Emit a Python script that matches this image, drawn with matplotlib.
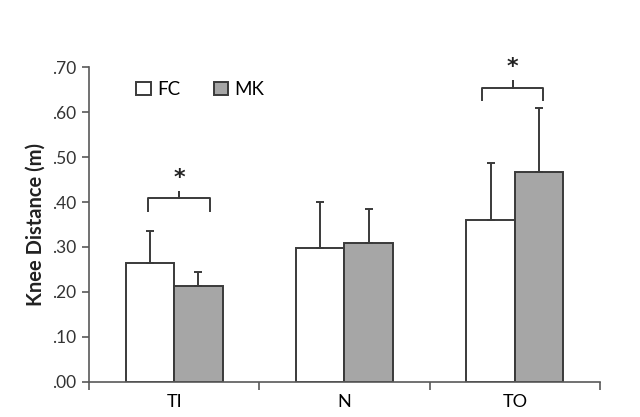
import matplotlib
matplotlib.use("Agg")
import matplotlib.pyplot as plt
import numpy as np

plt.rcParams['font.family'] = ['Lato', 'DejaVu Sans']

# data
categories = ["TI", "N", "TO"]
fc_mean = [0.265, 0.298, 0.359]
fc_sd = [0.071, 0.102, 0.127]
mk_mean = [0.214, 0.308, 0.466]
mk_sd = [0.031, 0.077, 0.144]

# significance brackets: (category index, bracket height)
sig = [(0, 0.408), (2, 0.655)]
# bracket extents relative to the category centre
spans = {0: (-0.154, 0.21), 2: (-0.193, 0.166)}

fig = plt.figure(figsize=(6.4, 4.17), dpi=100)
ax = fig.add_axes([0.139, 0.0846, 0.7985, 0.754])

x = np.arange(len(categories))
w = 0.284
dark = "#3a3a3a"

ax.bar(x - w / 2, fc_mean, w, color="white", edgecolor=dark, linewidth=1.4,
       yerr=[np.zeros(3), fc_sd], ecolor=dark, capsize=3,
       error_kw=dict(elinewidth=1.4, capthick=1.4), label="FC", zorder=2)
ax.bar(x + w / 2, mk_mean, w, color="#a6a6a6", edgecolor=dark, linewidth=1.4,
       yerr=[np.zeros(3), mk_sd], ecolor=dark, capsize=3,
       error_kw=dict(elinewidth=1.4, capthick=1.4), label="MK", zorder=2)

# brackets with star
for i, h in sig:
    x0 = i + spans[i][0]
    x1 = i + spans[i][1]
    xm = (x0 + x1) / 2
    ax.plot([x0, x0, xm, xm, xm, x1, x1],
            [h - 0.027, h, h, h + 0.014, h, h, h - 0.027],
            color=dark, lw=1.4, clip_on=False, solid_joinstyle="round")
    ax.text(xm, h + 0.045, "*", ha="center", va="center", fontsize=16,
            fontweight="bold", family="DejaVu Sans", color="#222222",
            clip_on=False)

ax.set_xlim(-0.5, 2.5)
ax.set_ylim(0, 0.70)
ax.set_yticks(np.arange(0, 0.71, 0.1))
ax.set_yticklabels([("%.2f" % v)[1:] for v in np.arange(0, 0.71, 0.1)])
ax.set_xticks([-0.5, 0.5, 1.5, 2.5])
ax.set_xticklabels([])
ax.set_xticks(x, minor=True)
ax.set_xticklabels(categories, minor=True, fontsize=13)
ax.tick_params(axis="x", which="minor", length=0, pad=9)
ax.tick_params(axis="x", which="major", length=6, width=1.2, color="#595959")
ax.tick_params(axis="y", length=5, width=1.2, color="#595959", labelsize=12.5,
               labelcolor="#333333", pad=4)

for s in ["top", "right"]:
    ax.spines[s].set_visible(False)
for s in ["left", "bottom"]:
    ax.spines[s].set_color("#595959")
    ax.spines[s].set_linewidth(1.2)

ax.set_ylabel("Knee Distance (m)", fontsize=14.5, fontweight="bold",
              color="#222222", labelpad=5)

ax.legend(loc="upper left", bbox_to_anchor=(0.06, 1.01), ncol=2, frameon=False,
          fontsize=13.5, handlelength=0.75, handleheight=0.75, columnspacing=1.8,
          handletextpad=0.35)

fig.savefig("out.png", dpi=100)
